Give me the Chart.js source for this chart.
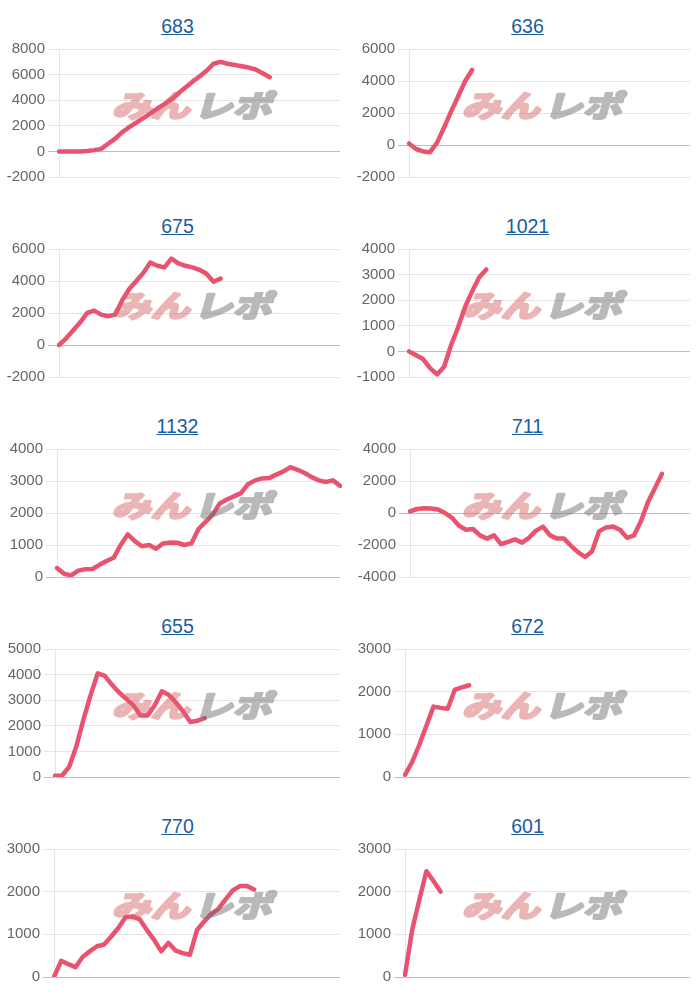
<!DOCTYPE html>
<html>
<head>
<meta charset="utf-8">
<script src="https://cdn.jsdelivr.net/npm/chart.js@4/dist/chart.umd.min.js"></script>
<style>
body{margin:0;background:#fff;}
#wrap{position:relative;width:700px;height:1000px;overflow:hidden;}
.panel{position:absolute;width:350px;height:200px;}
.title{position:absolute;top:15px;left:0;width:355px;text-align:center;font:19.5px/22px "Liberation Sans",Arial,sans-serif;}
.title a{color:#1a5c9c;text-decoration:underline;}
.panel canvas{position:absolute;left:0;top:37px;}
</style>
</head>
<body>
<div id="wrap"></div>
<script>
// ---- data ----
const xLabels = ['1','2','3','4','5','6','7','8','9','10','11','12','13','14','15','16','17','18','19','20','21','22','23','24','25','26','27','28','29','30','31','32','33','34','35','36','37','38','39','40','41'];
const chartTitles = ['683','636','675','1021','1132','711','655','672','770','601'];

const values683 = [0,0,0,0,30,100,200,600,1000,1500,1900,2250,2600,2950,3350,3700,4080,4550,5000,5450,5850,6300,6850,7000,6850,6750,6650,6550,6400,6100,5800];
const values636 = [100,-250,-400,-450,150,1100,2100,3050,4000,4700];
const values675 = [0,400,900,1400,2000,2150,1900,1800,1900,2800,3500,4000,4500,5150,4950,4850,5400,5100,4950,4850,4700,4450,3950,4150];
const values1021 = [0,-150,-300,-650,-900,-600,250,950,1750,2350,2900,3200];
const values1132 = [280,100,50,200,240,250,380,500,600,1000,1330,1120,960,1000,880,1050,1080,1070,1000,1050,1500,1720,1950,2300,2420,2520,2620,2900,3020,3080,3090,3200,3300,3430,3350,3250,3120,3020,2970,3020,2850];
const values711 = [100,250,300,280,220,0,-300,-800,-1050,-1000,-1400,-1600,-1400,-1950,-1800,-1650,-1850,-1550,-1100,-850,-1400,-1600,-1600,-2050,-2450,-2750,-2400,-1150,-900,-850,-1050,-1550,-1400,-500,680,1560,2450];
const values655 = [50,60,400,1200,2250,3200,4050,3950,3600,3300,3050,2800,2400,2400,2800,3350,3200,2900,2550,2150,2200,2300];
const values672 = [50,350,750,1200,1650,1620,1600,2050,2100,2150];
const values770 = [0,380,300,230,470,600,720,760,950,1150,1400,1420,1350,1100,870,600,800,620,560,520,1100,1300,1480,1600,1820,2030,2130,2130,2050];
const values601 = [50,1100,1800,2480,2250,2000];

const yMins  = [-2000,-2000,-2000,-1000,0,-4000,0,0,0,0];
const yMaxs  = [8000,6000,6000,4000,4000,4000,5000,3000,3000,3000];
const ySteps = [2000,2000,2000,1000,1000,2000,1000,1000,1000,1000];

const allSeries = [values683,values636,values675,values1021,values1132,values711,values655,values672,values770,values601];

// ---- layout/style ----
const plotLefts = [59,59,59,59,57,60,55,55,54,55];
const lineColor = '#e9536f';

// watermark image (drawn once, composited with transparency)
const wm = document.createElement('canvas');
wm.width = 200; wm.height = 44;
(function(){
  const c = wm.getContext('2d');
  c.translate(100, 22);
  c.transform(1,0,-0.28,1,0,0);
  c.scale(1.3,1);
  c.font = 'bold 30px "Noto Sans CJK JP", sans-serif';
  c.textBaseline = 'middle';
  c.lineJoin = 'round';
  c.lineWidth = 2.6;
  c.textAlign = 'right';
  c.fillStyle = c.strokeStyle = 'rgb(214,100,104)';
  c.fillText('みん', -1.5, 0); c.strokeText('みん', -1.5, 0);
  c.textAlign = 'left';
  c.fillStyle = c.strokeStyle = 'rgb(110,110,110)';
  c.fillText('レポ', 1.5, 0); c.strokeText('レポ', 1.5, 0);
})();

const watermark = {
  id:'watermark',
  afterDatasetsDraw(chart){
    const ctx = chart.ctx;
    ctx.save();
    ctx.globalAlpha = 0.48;
    ctx.drawImage(wm, 195 - 100, 69 - 22);
    ctx.restore();
  }
};

const wrap = document.getElementById('wrap');
chartTitles.forEach((t, i) => {
  const panel = document.createElement('div');
  panel.className = 'panel';
  panel.style.left = ((i % 2) * 350) + 'px';
  panel.style.top = (Math.floor(i / 2) * 200) + 'px';
  const title = document.createElement('div');
  title.className = 'title';
  const a = document.createElement('a');
  a.href = '#';
  a.textContent = t;
  title.appendChild(a);
  panel.appendChild(title);
  const canvas = document.createElement('canvas');
  canvas.width = 350; canvas.height = 152;
  canvas.style.width = '350px'; canvas.style.height = '152px';
  panel.appendChild(canvas);
  wrap.appendChild(panel);

  new Chart(canvas, {
    type: 'line',
    data: {
      labels: xLabels,
      datasets: [{
        data: allSeries[i],
        borderColor: lineColor,
        backgroundColor: lineColor,
        borderWidth: 4.5,
        pointRadius: 0,
        tension: 0,
        fill: false,
        borderJoinStyle: 'round',
        borderCapStyle: 'round'
      }]
    },
    options: {
      responsive: false,
      animation: false,
      devicePixelRatio: 1,
      layout: {padding: {left: 0, right: 10, top: 0, bottom: 0}},
      plugins: {legend: {display: false}, tooltip: {enabled: false}},
      scales: {
        x: {display: false},
        y: {
          min: yMins[i], max: yMaxs[i],
          ticks: {
            stepSize: ySteps[i],
            color: '#666',
            padding: 3,
            font: {family: '"Liberation Sans", Arial, sans-serif', size: 15},
            callback: v => String(v)
          },
          grid: {
            color: c => (c.tick && c.tick.value === 0) ? 'rgba(0,0,0,0.25)' : 'rgba(0,0,0,0.1)',
            tickLength: 11
          },
          border: {color: 'rgba(0,0,0,0.1)'},
          afterFit: s => { s.width = plotLefts[i]; }
        }
      }
    },
    plugins: [watermark]
  });
});
</script>
</body>
</html>
